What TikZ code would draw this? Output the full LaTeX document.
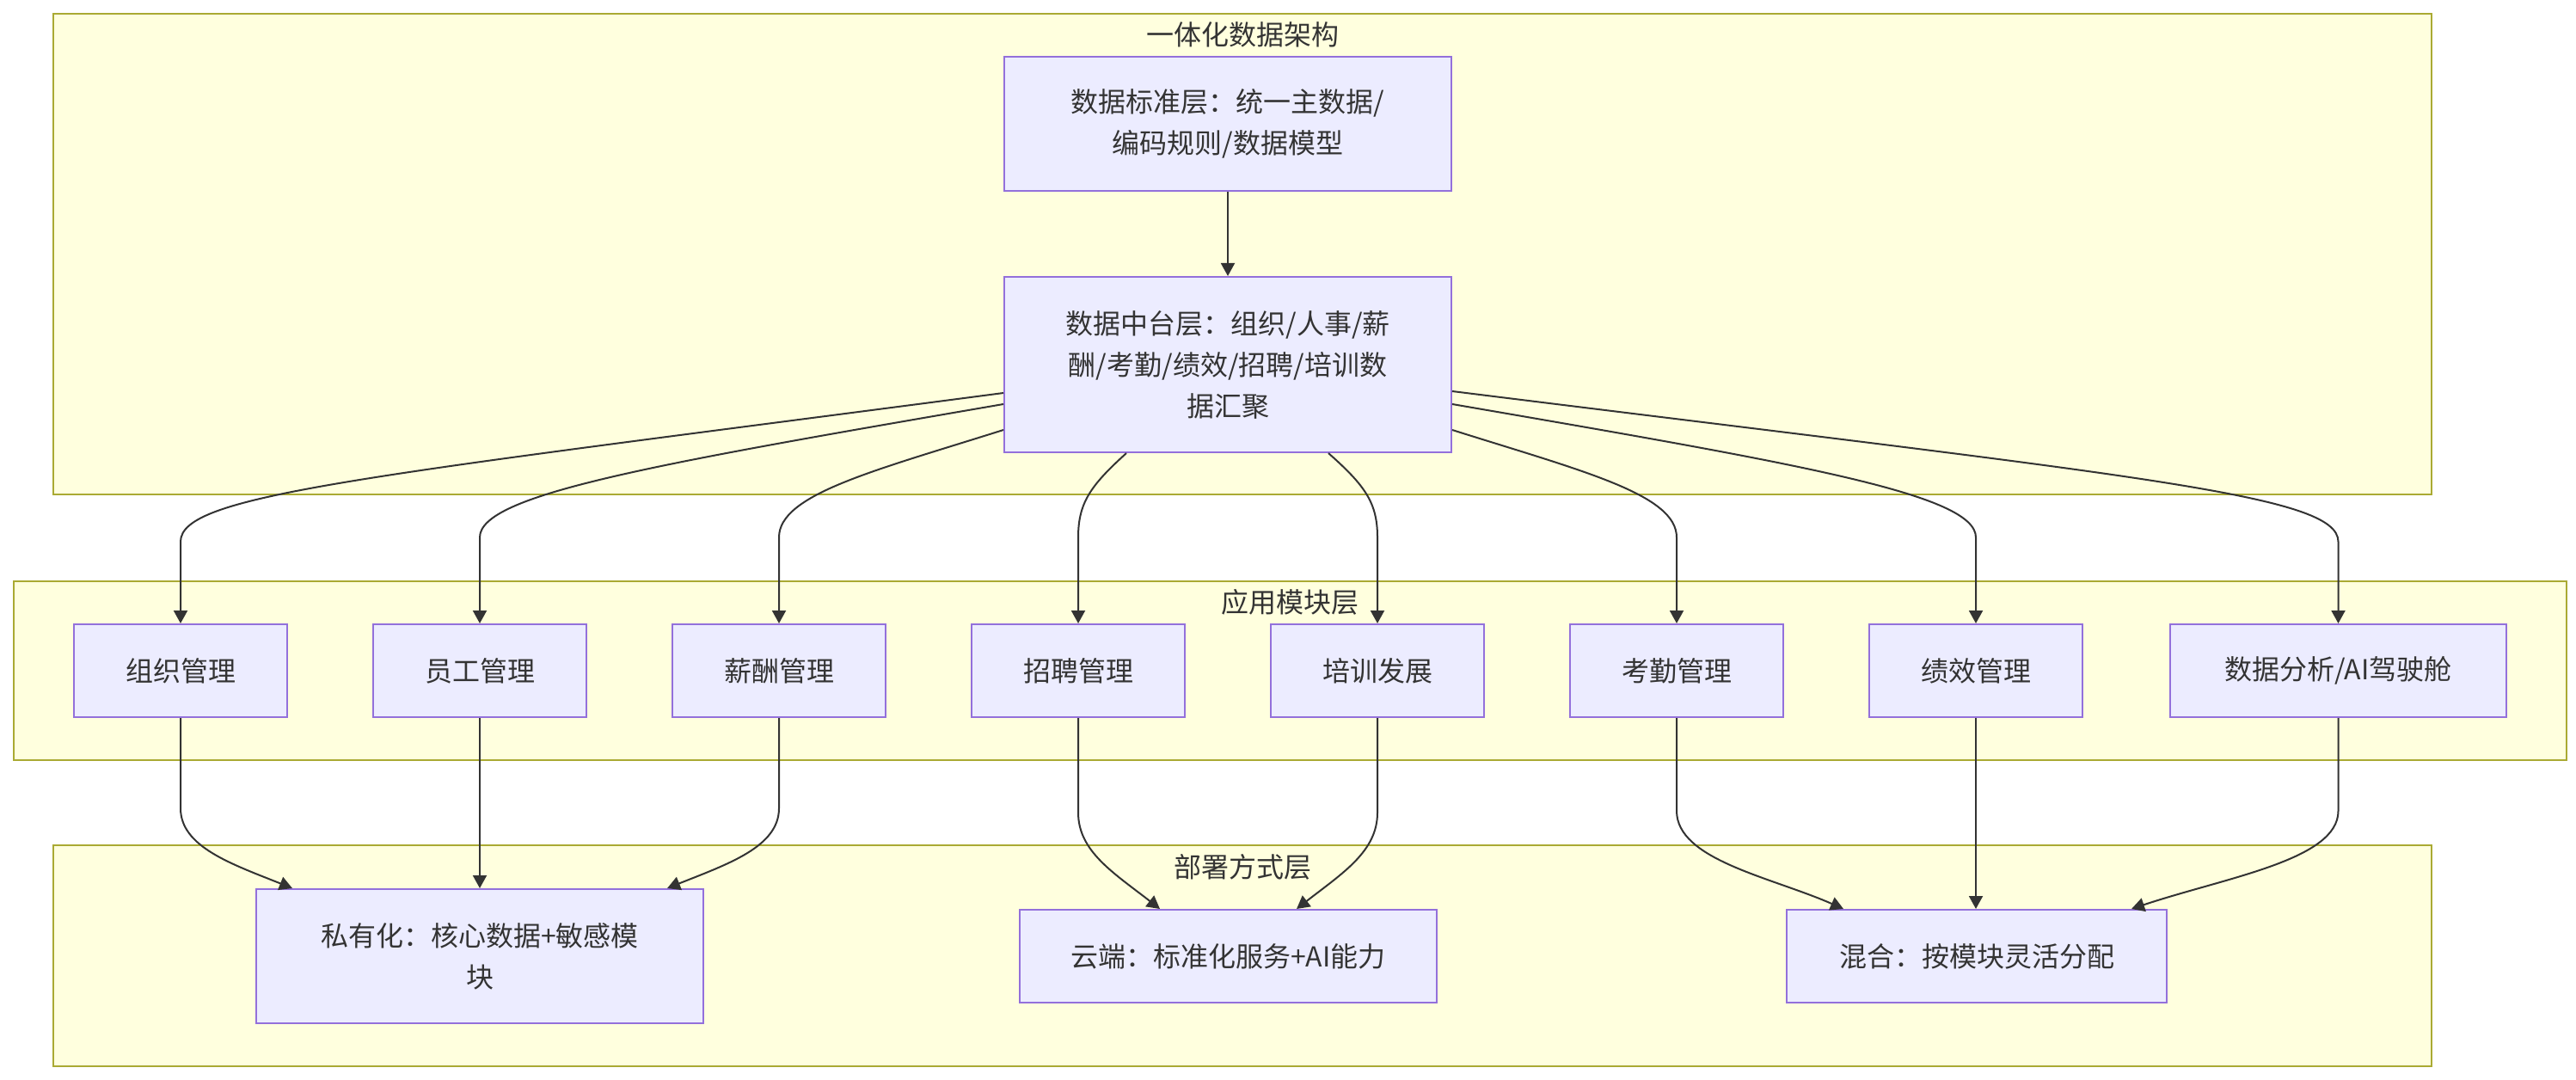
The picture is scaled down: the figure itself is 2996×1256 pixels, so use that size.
\documentclass[tikz,border=0pt]{standalone}
\usepackage{fontspec}
\setmainfont{Noto Sans CJK SC}
\usetikzlibrary{arrows.meta,calc}
\definecolor{clfill}{HTML}{FFFFDE}
\definecolor{cldraw}{HTML}{AAAA33}
\definecolor{ndfill}{HTML}{ECECFF}
\definecolor{nddraw}{HTML}{9370DB}
\definecolor{edgec}{HTML}{333333}
\begin{document}
\begin{tikzpicture}[x=0.5pt,y=-0.5pt,
  cluster/.style={draw=cldraw,fill=clfill,line width=1pt,inner sep=0pt},
  cltitle/.style={text=edgec,font=\fontsize{16pt}{24pt}\selectfont,inner sep=0pt},
  box/.style={draw=nddraw,fill=ndfill,line width=1pt,text=edgec,font=\fontsize{16pt}{24pt}\selectfont,align=center,inner sep=0pt},
  modbox/.style={box,minimum width=124pt,minimum height=54pt},
  link/.style={draw=edgec,line width=1pt,-{Triangle[length=7.5pt,width=8pt]}}
]
\useasboundingbox[fill=white] (0,0) rectangle (2996,1256);

% clusters
\node[cluster,minimum width=1383pt,minimum height=279.5pt] (ctop) at (1445,295.5) {};
\node[cluster,minimum width=1484.5pt,minimum height=104pt] (cmid) at (1500.5,780) {};
\node[cluster,minimum width=1383pt,minimum height=128.5pt] (cbot) at (1445,1111.5) {};
\node[cltitle] (ttop) at (1445,40) {一体化数据架构};
\node[cltitle] (tmid) at (1500,700) {应用模块层};
\node[cltitle] (tbot) at (1445,1008) {部署方式层};

% top nodes
\node[box,minimum width=260pt,minimum height=78pt] (A) at (1428,144) {数据标准层：统一主数据/\\编码规则/数据模型};
\node[box,minimum width=260pt,minimum height=102pt] (B) at (1428,424) {数据中台层：组织/人事/薪\\酬/考勤/绩效/招聘/培训数\\据汇聚};

% modules
\node[modbox] (m1) at (210,780) {组织管理};
\node[modbox] (m2) at (558,780) {员工管理};
\node[modbox] (m3) at (906,780) {薪酬管理};
\node[modbox] (m4) at (1254,780) {招聘管理};
\node[modbox] (m5) at (1602,780) {培训发展};
\node[modbox] (m6) at (1950,780) {考勤管理};
\node[modbox] (m7) at (2298,780) {绩效管理};
\node[box,minimum width=195.5pt,minimum height=54pt] (m8) at (2719.5,780) {数据分析/AI驾驶舱};

% deployment
\node[box,minimum width=260pt,minimum height=78pt] (priv) at (558,1112) {私有化：核心数据+敏感模\\块};
\node[box,minimum width=242.5pt,minimum height=54pt] (cloud) at (1428.5,1112) {云端：标准化服务+AI能力};
\node[box,minimum width=221pt,minimum height=54pt] (hyb) at (2299,1112) {混合：按模块灵活分配};

% edges
\draw[link] (A.south) -- (B.north);

\draw[link] ($(B.west)+(0,33)$) .. controls (420,555) and (210,575) .. (210,630) -- (m1.north);
\draw[link] ($(B.west)+(0,46)$) .. controls (760,540) and (558,575) .. (558,625) -- (m2.north);
\draw[link] ($(B.west)+(0,76)$) .. controls (1015,548) and (906,575) .. (906,625) -- (m3.north);
\draw[link] ($(B.south)+(-118,0)$) .. controls (1268,565) and (1254,585) .. (1254,625) -- (m4.north);
\draw[link] ($(B.south)+(117,0)$) .. controls (1588,565) and (1602,585) .. (1602,625) -- (m5.north);
\draw[link] ($(B.east)+(0,76)$) .. controls (1841,548) and (1950,575) .. (1950,625) -- (m6.north);
\draw[link] ($(B.east)+(0,46)$) .. controls (2096,540) and (2298,575) .. (2298,625) -- (m7.north);
\draw[link] ($(B.east)+(0,31)$) .. controls (2493,555) and (2719.5,575) .. (2719.5,630) -- (m8.north);

\draw[link] (m1.south) -- (210,940) .. controls (210,985) and (270,1005) .. ($(priv.north)+(-218,0)$);
\draw[link] (m2.south) -- (priv.north);
\draw[link] (m3.south) -- (906,940) .. controls (906,985) and (846,1005) .. ($(priv.north)+(218,0)$);
\draw[link] (m4.south) -- (1254,945) .. controls (1254,990) and (1295,1015) .. ($(cloud.north)+(-79.5,0)$);
\draw[link] (m5.south) -- (1602,945) .. controls (1602,990) and (1562,1015) .. ($(cloud.north)+(79.5,0)$);
\draw[link] (m6.south) -- (1950,943) .. controls (1950,1000) and (2060,1020) .. ($(hyb.north)+(-155,0)$);
\draw[link] (m7.south) -- (m7.south |- hyb.north);
\draw[link] (m8.south) -- (2719.5,943) .. controls (2719.5,1000) and (2590,1020) .. ($(hyb.north)+(180,0)$);
\end{tikzpicture}
\end{document}
